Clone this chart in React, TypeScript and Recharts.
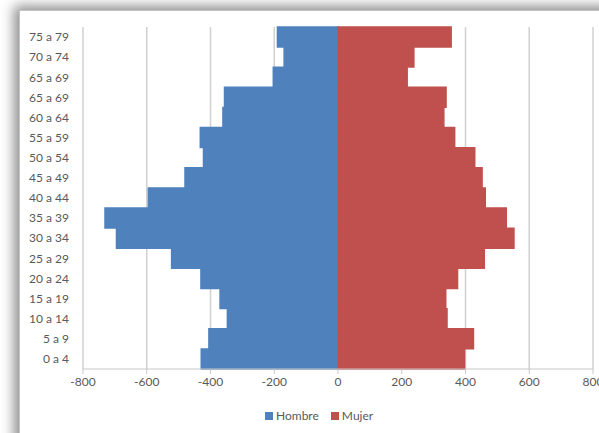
import { BarChart, Bar, XAxis, YAxis, CartesianGrid } from 'recharts';

// age groups, bottom to top (the source repeats "65 a 69")
const ageGroups = ['0 a 4', '5 a 9', '10 a 14', '15 a 19', '20 a 24', '25 a 29', '30 a 34', '35 a 39', '40 a 44', '45 a 49', '50 a 54', '55 a 59', '60 a 64', '65 a 69', '65 a 69', '70 a 74', '75 a 79'];
const hombre = [-429, -405, -347, -370, -430, -522, -695, -731, -595, -480, -422, -432, -361, -356, -203, -169, -190];
const mujer = [397, 425, 342, 338, 375, 459, 552, 528, 462, 452, 429, 366, 332, 339, 217, 238, 355];
const xTicks = [-800, -600, -400, -200, 0, 200, 400, 600, 800];

const BLUE = '#4F81BD';
const RED = '#C0504D';
const FONT = 'Lato, "Open Sans", sans-serif';

const data = ageGroups.map((age, i) => ({ age, hombre: hombre[i], mujer: mujer[i] }));

export default function App() {
  return (
    <div style={{ position: 'absolute', left: 0, top: 0, width: 599, height: 433, overflow: 'hidden', background: '#fff', fontFamily: FONT }}>
      {/* chart frame with shadow */}
      <div
        style={{
          position: 'absolute',
          left: 19,
          top: 10,
          width: 640,
          height: 460,
          border: '1px solid #c4c4c4',
          background: '#fff',
          boxShadow: '-5px -4px 12px rgba(0,0,0,0.45)',
        }}
      />
      <div style={{ position: 'absolute', left: 0, top: 0 }}>
        <BarChart
          width={620}
          height={433}
          data={data}
          layout="vertical"
          stackOffset="sign"
          barCategoryGap={0}
          margin={{ top: 27, right: 27, bottom: 0, left: 0 }}
        >
          <CartesianGrid horizontal={false} stroke="#d0d0d0" strokeWidth={1.5} />
          <XAxis
            type="number"
            domain={[-800, 800]}
            ticks={xTicks}
            interval={0}
            height={64}
            axisLine={{ stroke: '#c8c8c8' }}
            tickLine={{ stroke: '#c8c8c8' }}
            tickSize={5}
            tickMargin={3}
            tick={{ fill: '#595959', fontSize: 12, fontFamily: FONT }}
          />
          <YAxis
            type="category"
            dataKey="age"
            reversed
            width={83}
            axisLine={false}
            tickLine={false}
            tickSize={0}
            tickMargin={14}
            interval={0}
            tick={{ fill: '#595959', fontSize: 12, fontFamily: FONT }}
          />
          <Bar dataKey="hombre" name="Hombre" stackId="a" fill={BLUE} stroke={BLUE} strokeWidth={1.5} isAnimationActive={false} />
          <Bar dataKey="mujer" name="Mujer" stackId="a" fill={RED} stroke={RED} strokeWidth={1.5} isAnimationActive={false} />
        </BarChart>
      </div>
      {/* legend */}
      <div style={{ position: 'absolute', left: 265, top: 408, display: 'flex', alignItems: 'center', fontSize: 12, color: '#595959', lineHeight: '16px' }}>
        <span style={{ width: 8, height: 8, background: BLUE, marginRight: 3 }} />
        <span style={{ marginRight: 12 }}>Hombre</span>
        <span style={{ width: 8, height: 8, background: RED, marginRight: 3 }} />
        <span>Mujer</span>
      </div>
    </div>
  );
}
